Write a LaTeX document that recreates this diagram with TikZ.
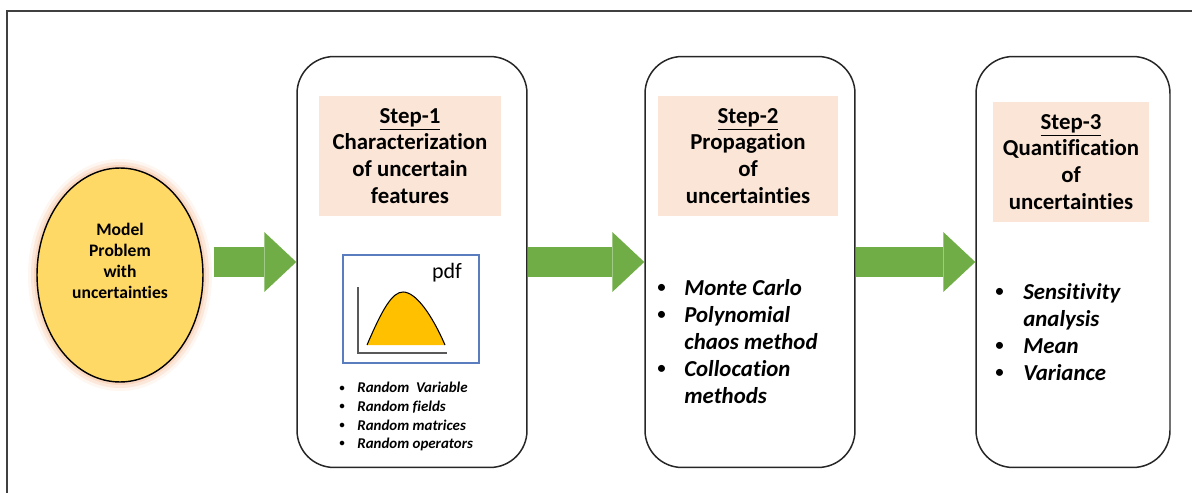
\documentclass[tikz,border=0pt]{standalone}
\usepackage{fontspec}
\setmainfont{Carlito}[Ligatures=NoCommon]
\usepackage{xcolor}
\usetikzlibrary{positioning,shapes.geometric,arrows.meta}

\definecolor{flowgreen}{HTML}{70AD47}
\definecolor{headfill}{HTML}{FBE5D6}
\definecolor{modelfill}{HTML}{FFD966}
\definecolor{glowfill}{HTML}{F4B183}
\definecolor{pdffill}{HTML}{FFC000}
\definecolor{pdfblue}{HTML}{5A7DBF}
\definecolor{framegray}{HTML}{404040}

% bullet line and continuation line
\newcommand{\bul}[2]{\makebox[#1][l]{\raisebox{0.12em}{\scalebox{0.72}{\textbullet}}}#2}
\newcommand{\cont}[2]{\hspace*{#1}#2}

\begin{document}
\begin{tikzpicture}[x=0.02cm, y=-0.02cm,
    stepbox/.style={rectangle, rounded corners=0.74cm, draw=black!85, line width=0.85pt, minimum height=8.22cm, inner sep=0pt},
    head/.style={rectangle, fill=headfill, minimum height=2.4cm, align=center, inner sep=0pt, font=\bfseries\fontsize{13}{15.3}\selectfont},
    bullets/.style={anchor=north west, align=left, inner sep=0pt, font=\bfseries\itshape\fontsize{13}{15.4}\selectfont},
    smallbullets/.style={bullets, font=\bfseries\itshape\fontsize{8.5}{10.6}\selectfont},
    flow/.style={flowgreen, line width=0.6cm, -{Triangle[width=1.2cm, length=0.64cm, line width=0pt]}}
]
\useasboundingbox (0,0) rectangle (1192,493);
\draw[framegray, line width=1.1pt] (7,493) -- (7,11) -- (1192,11);

% model problem with a soft glow
\foreach \g/\o in {9/0.12, 6/0.2, 3/0.3}
  \fill[glowfill, opacity=\o] (120,275) ellipse [x radius={83+\g}, y radius={107+\g}];
\node[ellipse, draw=black, line width=0.8pt, fill=modelfill, minimum width=3.32cm, minimum height=4.28cm, inner sep=0pt] (model) at (120,275) {};
\node[align=center, font=\bfseries\fontsize{10}{11.9}\selectfont] (modeltext) at (120,261) {Model\\Problem\\with\\uncertainties};

% step boxes
\node[stepbox, minimum width=4.6cm]  (s1) at (412,262) {};
\node[stepbox, minimum width=4.2cm]  (s2) at (750,262) {};
\node[stepbox, minimum width=3.88cm] (s3) at (1073,262) {};

\node[head, minimum width=3.64cm] (h1) at (410,156) {\underline{Step-1}\\Characterization\\of uncertain\\features};
\node[head, minimum width=3.62cm] (h2) at (748,156) {\underline{Step-2}\\Propagation\\of\\uncertainties};
\node[head, minimum width=3.12cm, minimum height=2.42cm] (h3) at (1071,162) {\underline{Step-3}\\Quantification\\of\\uncertainties};

% pdf sketch
\node[draw=pdfblue, line width=0.6pt, minimum width=2.72cm, minimum height=2.16cm, inner sep=0pt] (pdf) at (411,309) {};
\node[font=\mdseries\fontsize{12.5}{15}\selectfont] (pdflabel) at (447,273) {pdf};
\fill[pdffill] (367,345) .. controls (382,310) and (392,292) .. (403,292) .. controls (416,292) and (432,315) .. (445,345) -- cycle;
\draw[black, line width=0.6pt] (367,345) .. controls (382,310) and (392,292) .. (403,292) .. controls (416,292) and (432,315) .. (445,345);
\draw[black!65, line width=0.6pt] (358,287) -- (358,353) -- (447,353);

% lists
\node[smallbullets] (l1) at (339,382) {\bul{0.36cm}{Random\ \ Variable}\\\bul{0.36cm}{Random fields}\\\bul{0.36cm}{Random matrices}\\\bul{0.36cm}{Random operators}};
\node[bullets] (l2) at (657,279) {\bul{0.54cm}{Monte Carlo}\\\bul{0.54cm}{Polynomial}\\\cont{0.54cm}{chaos method}\\\bul{0.54cm}{Collocation}\\\cont{0.54cm}{methods}};
\node[bullets] (l3) at (995,283) {\bul{0.56cm}{Sensitivity}\\\cont{0.56cm}{analysis}\\\bul{0.56cm}{Mean}\\\bul{0.56cm}{Variance}};

% flow arrows
\draw[flow, shorten <=0.2cm] (model.east |- s1.west) -- (s1.west);
\draw[flow] (s1.east) -- (s2.west);
\draw[flow] (s2.east) -- (s3.west);
\end{tikzpicture}
\end{document}
